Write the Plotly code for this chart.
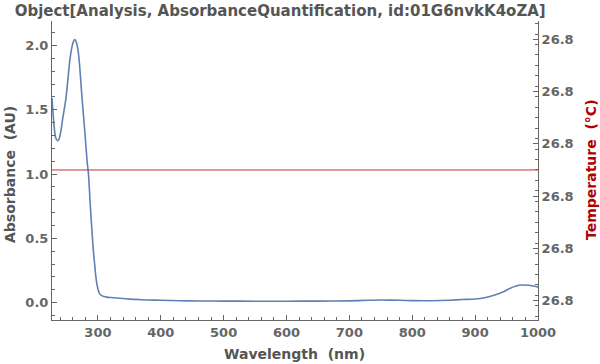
import plotly.graph_objects as go

# ---- data ----
wavelength_nm = [227, 229, 231, 233, 235.5, 238, 241, 244, 247, 249, 252, 255, 258, 261,
                 263.5, 266, 268.5, 271, 274, 277, 280, 283, 285, 288, 290, 292.5, 295,
                 297, 299, 301, 303, 306, 310, 314, 320, 330, 340, 350, 360, 380, 400,
                 430, 460, 500, 550, 600, 650, 700, 730, 750, 780, 800, 830, 860, 880,
                 900, 915, 930, 945, 955, 965, 975, 985, 995, 1000]
absorbance_au = [1.59, 1.45, 1.34, 1.28, 1.26, 1.27, 1.33, 1.43, 1.52, 1.58, 1.72, 1.87,
                 1.97, 2.03, 2.045, 2.02, 1.96, 1.84, 1.64, 1.46, 1.28, 1.09, 1.00, 0.75,
                 0.60, 0.42, 0.29, 0.19, 0.13, 0.09, 0.068, 0.055, 0.047, 0.043, 0.040,
                 0.036, 0.032, 0.027, 0.025, 0.021, 0.018, 0.015, 0.013, 0.012, 0.011,
                 0.011, 0.012, 0.014, 0.018, 0.020, 0.018, 0.016, 0.015, 0.019, 0.024,
                 0.028, 0.038, 0.058, 0.085, 0.110, 0.130, 0.137, 0.135, 0.127, 0.120]
temp_x = [227, 1000]
temperature_c = [26.8, 26.8]

x_range = [227, 1000]
abs_range = [-0.135, 2.19]
temp_range = [26.8 - 0.000287, 26.8 + 0.000285]

title = "Object[Analysis, AbsorbanceQuantification, id:01G6nvkK4oZA]"
x_title = "Wavelength\u00a0\u00a0(nm)"
y_title = "Absorbance\u00a0\u00a0(AU)"
y2_title = "Temperature\u00a0\u00a0(°C)"

axis_grey = "#666666"
label_grey = "#555555"
font_family = "DejaVu Sans"

fig = go.Figure()
fig.add_trace(go.Scatter(x=wavelength_nm, y=absorbance_au, mode="lines",
                         line=dict(color="#5E81B5", width=1.6, shape="spline", smoothing=0.6),
                         showlegend=False, hoverinfo="skip"))
fig.add_trace(go.Scatter(x=temp_x, y=temperature_c, mode="lines", yaxis="y2",
                         line=dict(color="rgb(200,45,45)", width=1),
                         showlegend=False, hoverinfo="skip"))

tickfont = dict(family=font_family, size=13, color=axis_grey, weight="bold")
common = dict(showline=True, linecolor=axis_grey, linewidth=1, showgrid=False,
              zeroline=False, ticks="inside", ticklen=5, tickcolor=axis_grey,
              tickfont=tickfont, automargin=False)
title_font = dict(family=font_family, size=14, color=label_grey, weight="bold")

fig.update_layout(
    template="none",
    width=600, height=364,
    margin=dict(l=52, r=62, t=21, b=44),
    paper_bgcolor="white", plot_bgcolor="white",
    title=dict(text=title, x=0.467, xanchor="center", y=0.97, yanchor="middle",
               font=dict(family=font_family, size=15, color=label_grey, weight="bold")),
    xaxis=dict(range=x_range, dtick=100, tick0=0,
               minor=dict(dtick=20, ticks="inside", ticklen=3, tickcolor=axis_grey),
               **common),
    yaxis=dict(range=abs_range, dtick=0.5, tick0=0, tickformat=".1f",
               minor=dict(dtick=0.1, ticks="inside", ticklen=3, tickcolor=axis_grey),
               **common),
    yaxis2=dict(range=temp_range, overlaying="y", side="right", anchor="x",
                tick0=26.79995, dtick=0.0001, tickformat=".1f",
                minor=dict(dtick=0.00002, ticks="inside", ticklen=3, tickcolor=axis_grey),
                **common),
    annotations=[
        dict(text=x_title, xref="paper", yref="paper", x=0.499, y=-0.1137,
             xanchor="center", yanchor="middle", showarrow=False, font=title_font),
        dict(text=y_title, xref="paper", yref="paper", x=-0.0864, y=0.485,
             xanchor="center", yanchor="middle", textangle=-90, showarrow=False,
             font=title_font),
        dict(text=y2_title, xref="paper", yref="paper", x=1.109, y=0.505,
             xanchor="center", yanchor="middle", textangle=-90, showarrow=False,
             font=dict(family=font_family, size=14, color="#B00000", weight="bold")),
    ],
)

fig.write_html("out.html", config={"displayModeBar": False},
               post_script="document.body.style.margin='0px';document.body.style.overflow='hidden';")
